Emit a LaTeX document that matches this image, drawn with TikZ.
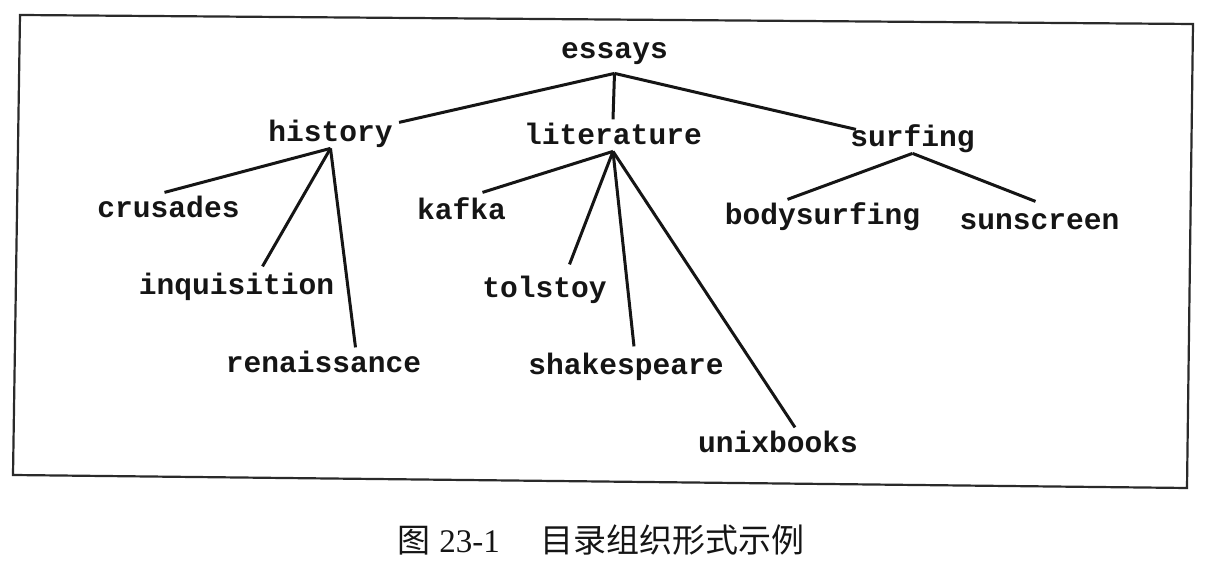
\documentclass[tikz,border=0pt]{standalone}
\usepackage{fontspec}
\setmainfont{Liberation Serif}
\setmonofont{Liberation Mono}
\newfontfamily\cjk{Noto Sans CJK SC}
\usetikzlibrary{positioning}
\definecolor{ink}{HTML}{151515}
\definecolor{frame}{HTML}{2A2A2A}

\begin{document}
\begin{tikzpicture}[
  x=0.5pt,y=-0.5pt,
  dir/.style={font=\fontsize{14.8}{16}\selectfont\ttfamily\bfseries,text=ink,anchor=base,
    inner xsep=3pt,inner ysep=3pt,text height=9.6pt,text depth=0pt},
  link/.style={line width=1.5pt,color=ink},
  caption/.style={font=\fontsize{16.5}{18}\selectfont,text=ink,anchor=base west,inner sep=0pt}
]
\useasboundingbox (0,0) rectangle (1212,576);
\draw[frame,line width=1.1pt] (20,15) -- (1193,24) -- (1187,488) -- (13,475) -- cycle;

\node[dir] (essays) at (614.5,59) {essays};
\node[dir] (history) at (330.5,142) {history};
\node[dir] (literature) at (613,145) {literature};
\node[dir] (surfing) at (912.5,147) {surfing};
\node[dir] (crusades) at (168.5,218) {crusades};
\node[dir] (inquisition) at (236.5,295) {inquisition};
\node[dir] (renaissance) at (323.5,373) {renaissance};
\node[dir] (kafka) at (461.5,220) {kafka};
\node[dir] (tolstoy) at (544.5,298) {tolstoy};
\node[dir] (shakespeare) at (626,375) {shakespeare};
\node[dir] (unixbooks) at (778,453) {unixbooks};
\node[dir] (bodysurfing) at (822.5,225) {bodysurfing};
\node[dir] (sunscreen) at (1039.5,230) {sunscreen};

\draw[link] ([yshift=-4pt]essays.south) -- ([yshift=-3pt]history.north east);
\draw[link] ([yshift=-4pt]essays.south) -- (literature.north);
\draw[link] ([yshift=-4pt]essays.south) -- ([xshift=6pt,yshift=-4pt]surfing.north west);

\draw[link] (history.south) -- ([xshift=-2pt]crusades.north);
\draw[link] (history.south) -- ([xshift=13pt,yshift=1.5pt]inquisition.north);
\draw[link] (history.south) -- ([xshift=16pt]renaissance.north);

\draw[link] (literature.south) -- ([xshift=10.5pt,yshift=1pt]kafka.north);
\draw[link] (literature.south) -- ([xshift=12.5pt,yshift=4pt]tolstoy.north);
\draw[link] (literature.south) -- ([xshift=4pt,yshift=1.5pt]shakespeare.north);
\draw[link] (literature.south) -- ([xshift=8.5pt]unixbooks.north);

\draw[link] (surfing.south) -- ([xshift=-17.5pt]bodysurfing.north);
\draw[link] (surfing.south) -- ([xshift=-2pt,yshift=1.5pt]sunscreen.north);

\node[caption] (fig) at (397,553) {{\cjk 图}\hspace{4.5pt}23-1\hspace{20.5pt}{\cjk 目录组织形式示例}};
\end{tikzpicture}
\end{document}
